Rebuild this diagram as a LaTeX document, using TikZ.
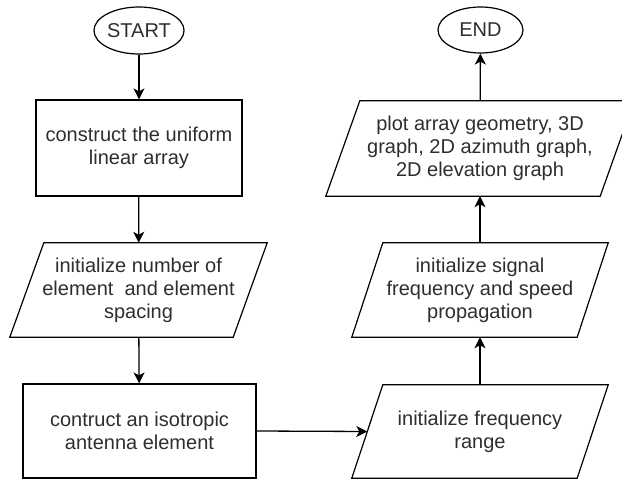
\documentclass[tikz,border=0pt]{standalone}
\usepackage{fontspec}
\setmainfont{Liberation Sans}
\usetikzlibrary{arrows.meta,shapes.geometric}

% draws a right-leaning parallelogram around a (borderless) node
\newcommand{\paraoutline}[2]{%
  \draw[outline] ([xshift=#2]#1.north west) -- ([xshift=#2]#1.north east)
    -- ([xshift=-#2]#1.south east) -- ([xshift=-#2]#1.south west) -- cycle;}

\begin{document}
\begin{tikzpicture}[x=1pt,y=-1pt,
  outline/.style={draw=black, line width=1.2pt},
  label/.style={font=\fontsize{20}{23}\selectfont, text=black!82, align=center, inner sep=0pt},
  terminal/.style={label, ellipse, outline, minimum width=86pt, minimum height=47pt},
  process/.style={label, rectangle, outline},
  io/.style={label, rectangle, draw=none},
  flow/.style={line width=1.3pt, -{Stealth[length=11pt,width=11pt,inset=3pt]}}]

  \useasboundingbox (0,0) rectangle (622,479);

  % left column
  \node[terminal] (start) at (139,30.5) {START};
  \node[process, minimum width=206pt, minimum height=96pt] (ula) at (139,148)
    {construct the uniform\\linear array};
  \node[io, minimum width=223pt, minimum height=94pt] (nelem) at (138.5,290)
    {initialize number of\\element\ \ and element\\spacing};
  \paraoutline{nelem}{17}
  \node[process, minimum width=233pt, minimum height=94pt] (iso) at (139.5,431)
    {contruct an isotropic\\antenna element};

  % right column
  \node[io, minimum width=225pt, minimum height=93pt] (frange) at (480,431.5)
    {initialize frequency\\range};
  \paraoutline{frange}{15.5}
  \node[io, minimum width=225pt, minimum height=94pt] (signal) at (480,290)
    {initialize signal\\frequency and speed\\propagation};
  \paraoutline{signal}{15.5}
  \node[io, minimum width=274pt, minimum height=95pt] (plot) at (480,148.5)
    {plot array geometry, 3D\\graph, 2D azimuth graph,\\2D elevation graph};
  \paraoutline{plot}{17}
  \node[terminal, minimum width=85pt, minimum height=46pt] (end) at (480.5,30) {END};

  % connectors
  \draw[flow] (start) -- (ula);
  \draw[flow] (ula) -- (nelem);
  \draw[flow] (nelem) -- (iso);
  \draw[flow] (iso.east) -- (frange.west);
  \draw[flow] (frange) -- (signal);
  \draw[flow] (signal) -- (plot);
  \draw[flow] (plot) -- (end);
\end{tikzpicture}
\end{document}
